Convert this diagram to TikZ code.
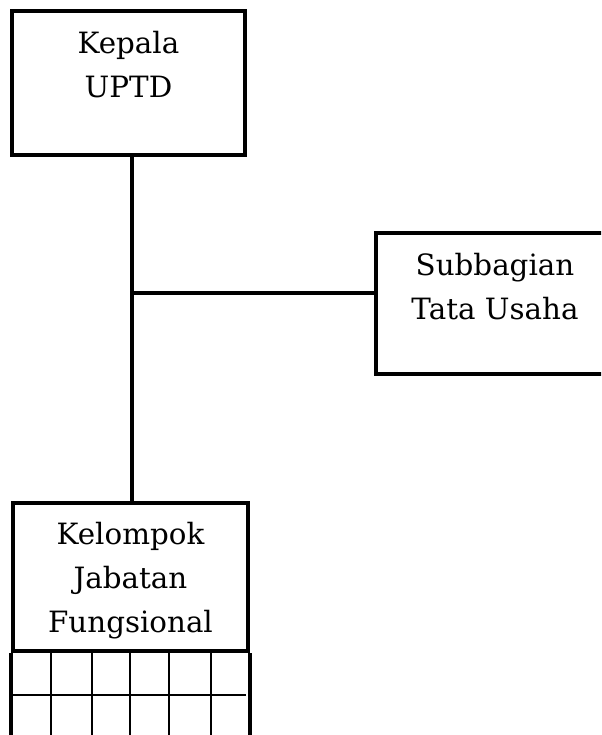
\documentclass[tikz,border=0pt]{standalone}
\usepackage{fontspec}
\setmainfont{DejaVu Serif}
\usetikzlibrary{positioning,calc}

\begin{document}
\begin{tikzpicture}[
  x=0.75pt, y=-0.75pt,
  font=\fontsize{22}{33}\selectfont,
  box/.style={draw=black, line width=3pt, align=center, inner sep=0pt, fill=white},
  head/.style={box, minimum width=174.75pt, text height=65.25pt, text depth=42.75pt},
  staff/.style={box, minimum width=178.5pt, text height=64.5pt, text depth=41.25pt},
  group/.style={box, minimum width=176.25pt, text height=96.75pt, text depth=14.25pt},
  link/.style={draw=black, line width=2.3pt},
  cell/.style={draw=black, line width=1.5pt}
]
\clip (0,0) rectangle (601,735);
\node[head] (kepala) at (128.5,83) {Kepala\\UPTD};
\node[staff] (subbag) at (495,303.5) {Subbagian\\Tata Usaha};
\node[group] (kelompok) at (130.5,577) {Kelompok\\Jabatan\\Fungsional};
% connectors
\coordinate (junction) at (132,293);
\draw[link] (kepala.south -| junction) -- (kelompok.north -| junction);
\draw[link] (junction) -- (junction -| subbag.west);
% grid below the functional group
\foreach \gx in {51,92,130,169,211}
  \draw[cell] (\gx,651) -- (\gx,760);
\draw[cell] (kelompok.south west) ++(0,42) -- ++(235,0);
\draw[link] (kelompok.south west) -- ++(0,110);
\draw[link] (kelompok.south east) -- ++(0,110);
\end{tikzpicture}
\end{document}
